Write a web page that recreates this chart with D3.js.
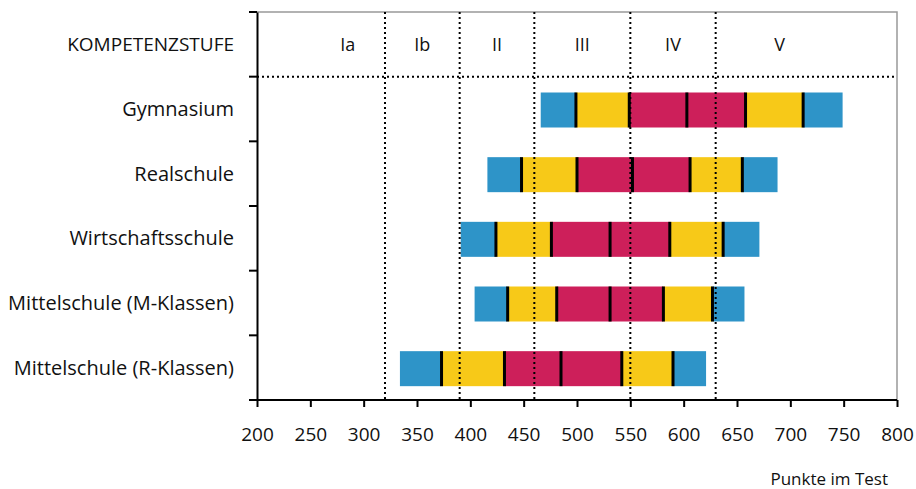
<!DOCTYPE html>
<html>
<head>
<meta charset="utf-8">
<script src="https://cdn.jsdelivr.net/npm/d3@7"></script>
<style>
  body { margin: 0; background: #fff; }
  text { font-family: "Open Sans", sans-serif; fill: #111; }
</style>
</head>
<body>
<div id="chart"></div>
<script>
// Schularten (von oben nach unten)
var schools = ["Gymnasium", "Realschule", "Wirtschaftsschule", "Mittelschule (M-Klassen)", "Mittelschule (R-Klassen)"];
// Perzentile 5, 10, 25, Mittelwert, 75, 90, 95
var p05  = [466, 416, 391, 404, 334];
var p10  = [499, 448, 424, 435, 373];
var p25  = [549, 500, 476, 481, 432];
var mean = [603, 552, 531, 531, 485];
var p75  = [658, 606, 587, 581, 542];
var p90  = [712, 655, 637, 627, 590];
var p95  = [749, 688, 671, 657, 621];

// Kompetenzstufen
var levelNames = ["Ia", "Ib", "II", "III", "IV", "V"];
var levelFrom  = [250, 320, 390, 460, 550, 630];
var levelTo    = [320, 390, 460, 550, 630, 750];
var levelBounds = [320, 390, 460, 550, 630];

var xTicks = [200, 250, 300, 350, 400, 450, 500, 550, 600, 650, 700, 750, 800];

var blue = "#2e94c8", yellow = "#f7c918", red = "#cd1f5a";

var W = 916, H = 489;
var svg = d3.select("#chart").append("svg").attr("width", W).attr("height", H);

var x = d3.scaleLinear().domain([200, 800]).range([257, 897]);
var rows = ["header"].concat(schools);
var y = d3.scaleBand().domain(rows).range([12, 400]);

// Rahmen oben und rechts (grau)
svg.append("path")
  .attr("d", "M" + x(200) + "," + y.range()[0] + "H" + x(800) + "V" + y.range()[1])
  .attr("fill", "none").attr("stroke", "#999").attr("stroke-width", 1.5);

// Balken
var barH = 35;
schools.forEach(function(s, i) {
  var segs = [
    [p05[i], p10[i], blue], [p10[i], p25[i], yellow], [p25[i], p75[i], red],
    [p75[i], p90[i], yellow], [p90[i], p95[i], blue]
  ];
  var yc = y(s) + y.bandwidth() / 2 + 1;
  var g = svg.append("g");
  g.selectAll("rect").data(segs).enter().append("rect")
    .attr("x", function(d) { return x(d[0]); })
    .attr("width", function(d) { return x(d[1]) - x(d[0]); })
    .attr("y", yc - barH / 2).attr("height", barH)
    .attr("fill", function(d) { return d[2]; });
  g.selectAll("line").data([p10[i], p25[i], mean[i], p75[i], p90[i]]).enter().append("line")
    .attr("x1", function(d) { return x(d); }).attr("x2", function(d) { return x(d); })
    .attr("y1", yc - barH / 2).attr("y2", yc + barH / 2)
    .attr("stroke", "#000").attr("stroke-width", 3);
});

// gepunktete Linien
svg.selectAll(".vdot").data(levelBounds).enter().append("line")
  .attr("x1", function(d) { return x(d); }).attr("x2", function(d) { return x(d); })
  .attr("y1", y.range()[0]).attr("y2", y.range()[1])
  .attr("stroke", "#000").attr("stroke-width", 2).attr("stroke-dasharray", "2,3");
svg.append("line")
  .attr("x1", x(200)).attr("x2", x(800))
  .attr("y1", y(schools[0])).attr("y2", y(schools[0]))
  .attr("stroke", "#000").attr("stroke-width", 2).attr("stroke-dasharray", "2,3");

// Kopfzeile
svg.selectAll(".lvl").data(levelNames).enter().append("text")
  .attr("x", function(d, i) { return x((levelFrom[i] + levelTo[i]) / 2); })
  .attr("y", y("header") + y.bandwidth() / 2 + 7)
  .attr("text-anchor", "middle").style("font-size", "18px")
  .text(function(d) { return d; });

// y-Achse
var yAxis = d3.axisLeft(y).tickValues([]).tickSize(0);
svg.append("g").attr("transform", "translate(" + x(200) + ",0)").call(yAxis)
  .call(function(g) { g.select(".domain").attr("stroke-width", 2); });
var bounds = rows.map(function(r) { return y(r); }).concat([y.range()[1]]);
svg.selectAll(".ytick").data(bounds).enter().append("line")
  .attr("x1", x(200) - 8).attr("x2", x(200))
  .attr("y1", function(d) { return d; }).attr("y2", function(d) { return d; })
  .attr("stroke", "#000").attr("stroke-width", 2);
svg.selectAll(".ylab").data(rows).enter().append("text")
  .attr("x", 234)
  .attr("y", function(d) { return y(d) + y.bandwidth() / 2 + 7; })
  .attr("text-anchor", "end")
  .style("font-size", function(d) { return d === "header" ? "19px" : "20px"; })
  .text(function(d) { return d === "header" ? "KOMPETENZSTUFE" : d; });

// x-Achse
var xAxis = d3.axisBottom(x).tickValues(xTicks).tickSize(7).tickPadding(21);
var gx = svg.append("g").attr("transform", "translate(0," + y.range()[1] + ")").call(xAxis);
gx.select(".domain").attr("d", "M" + (x(200) - 7) + ",0H" + x(800)).attr("stroke-width", 2);
gx.selectAll(".tick line").attr("stroke-width", 2);
gx.selectAll(".tick text").style("font-size", "19px").style("font-family", "'Open Sans', sans-serif").attr("fill", "#111");

svg.append("text").attr("x", 888).attr("y", 485)
  .attr("text-anchor", "end").style("font-size", "17px")
  .text("Punkte im Test");
</script>
</body>
</html>
